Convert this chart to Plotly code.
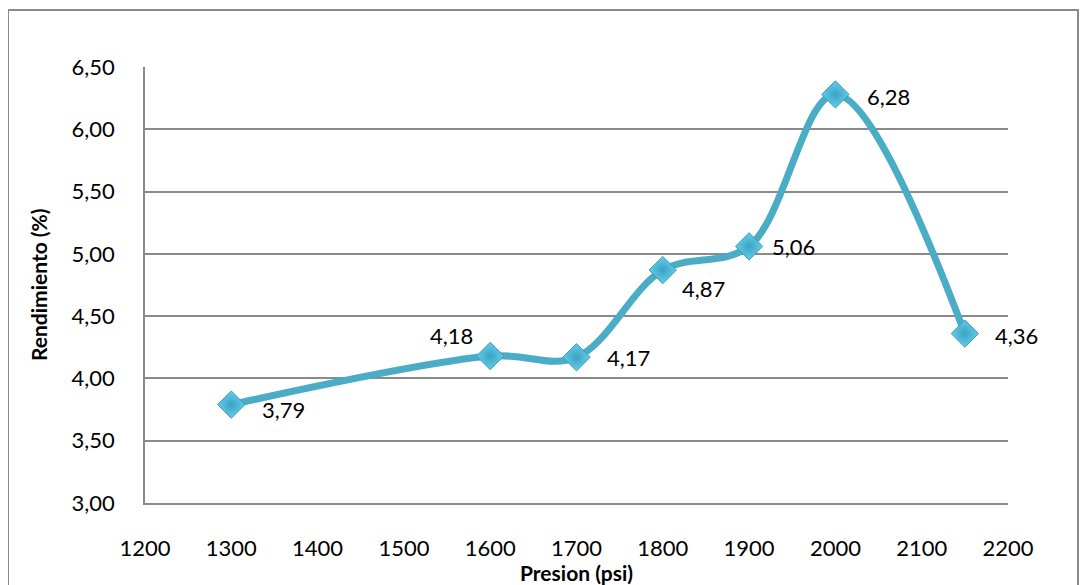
import plotly.graph_objects as go

presion = [1300, 1600, 1700, 1800, 1900, 2000, 2150]
rendimiento = [3.79, 4.18, 4.17, 4.87, 5.06, 6.28, 4.36]
etiquetas = ["3,79", "4,18", "4,17", "4,87", "5,06", "6,28", "4,36"]
y_ticks = [3.0, 3.5, 4.0, 4.5, 5.0, 5.5, 6.0, 6.5]
y_tick_text = ["3,00", "3,50", "4,00", "4,50", "5,00", "5,50", "6,00", "6,50"]
x_ticks = [1200, 1300, 1400, 1500, 1600, 1700, 1800, 1900, 2000, 2100, 2200]

FONT = "Lato"
GRID = "#8a8a8a"
LINE = "#4bacc6"
PW, PH = 863, 436  # plot area size in px

fig = go.Figure()
fig.add_trace(go.Scatter(
    x=presion, y=rendimiento, mode="lines+markers",
    line=dict(color=LINE, width=7, shape="spline", smoothing=1.0),
    marker=dict(symbol="diamond", size=21, color="#63cdec",
                gradient=dict(type="radial", color="#3aa3c3"),
                line=dict(color="#3a9bb8", width=1)),
    hoverinfo="skip", showlegend=False,
))

# label offsets (pixels) per point
shifts = [(29, -5, "left"), (-15, 21, "right"), (28, 0, "left"), (17, -18, "left"),
          (21, 0, "left"), (30, -2, "left"), (28, -2, "left")]
for xv, yv, t, (dx, dy, anc) in zip(presion, rendimiento, etiquetas, shifts):
    fig.add_annotation(x=xv, y=yv, text=t, showarrow=False, xanchor=anc, yanchor="middle",
                       xshift=dx, yshift=dy, font=dict(family=FONT, size=22, color="#000"))

# axis titles
fig.add_annotation(xref="paper", yref="paper", x=0.5, y=-(572 - 503) / PH,
                   text="<b>Presion (psi)</b>", showarrow=False, xanchor="center", yanchor="middle",
                   font=dict(family=FONT, size=21, color="#000"))
fig.add_annotation(xref="paper", yref="paper", x=-(145 - 38) / PW, y=0.5,
                   text="<b>Rendimiento (%)</b>", showarrow=False, textangle=-90,
                   xanchor="center", yanchor="middle",
                   font=dict(family=FONT, size=21, color="#000"))

fig.update_layout(
    template="none",
    width=1079, height=577,
    margin=dict(l=137, r=79, t=59, b=82),
    paper_bgcolor="white", plot_bgcolor="white",
    font=dict(family=FONT, size=22, color="#000"),
    xaxis=dict(range=[1200, 2200], tickvals=x_ticks, ticktext=[str(v) for v in x_ticks],
               showgrid=False, zeroline=False, showline=True, linecolor=GRID, linewidth=1.5,
               ticks="outside", ticklen=25, tickcolor="rgba(0,0,0,0)", automargin=False),
    yaxis=dict(range=[3.0, 6.5], tickvals=y_ticks, ticktext=y_tick_text,
               showgrid=True, gridcolor=GRID, gridwidth=1.5, zeroline=False,
               showline=True, linecolor=GRID, linewidth=1.5, automargin=False,
               ticks="outside", ticklen=24, tickcolor="rgba(0,0,0,0)"),
)

# outer chart border
fig.add_shape(type="rect", xref="paper", yref="paper",
              x0=(8 - 145) / PW, x1=(1078 - 145) / PW,
              y0=(503 - 600) / PH, y1=(503 - 10) / PH,
              line=dict(color="#8a8a8a", width=2), fillcolor="rgba(0,0,0,0)", layer="below")

fig.write_html("out.html")
